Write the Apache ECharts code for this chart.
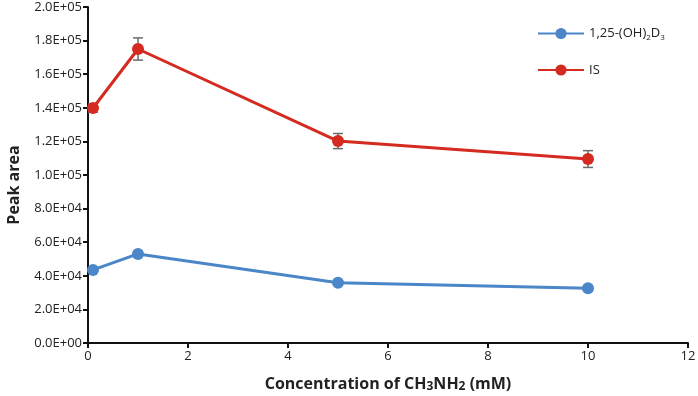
<!DOCTYPE html>
<html>
<head>
<meta charset="utf-8">
<script src="https://cdn.jsdelivr.net/npm/echarts@6/dist/echarts.min.js"></script>
<style>
html, body { margin: 0; padding: 0; background: #fff; }
#main { width: 698px; height: 396px; }
</style>
</head>
<body>
<div id="main"></div>
<script>
var myChart = echarts.init(document.getElementById('main'));

// data
var concentrations = [0.1, 1, 5, 10];
var vitD = [43500, 53000, 35900, 32600];
var vitDErr = [1000, 1500, 800, 700];
var isValues = [139900, 175000, 120200, 109500];
var isErr = [2500, 6600, 4500, 5000];

var blue = '#4a86c8';
var red = '#d42a20';

function sci(v) {
    if (v === 0) return '0.0E+00';
    var e = Math.floor(Math.log10(v));
    var m = v / Math.pow(10, e);
    return m.toFixed(1) + 'E+' + (e < 10 ? '0' + e : e);
}

function pairs(xs, ys) {
    return xs.map(function (x, i) { return [x, ys[i]]; });
}

function errData(xs, ys, es) {
    return xs.map(function (x, i) { return [x, ys[i] - es[i], ys[i] + es[i]]; });
}

function errorBars(params, api) {
    var x = api.value(0);
    var lo = api.coord([x, api.value(1)]);
    var hi = api.coord([x, api.value(2)]);
    var w = 5;
    var st = { stroke: '#6b6b6b', lineWidth: 1.5 };
    return {
        type: 'group',
        children: [
            { type: 'line', shape: { x1: lo[0], y1: lo[1], x2: hi[0], y2: hi[1] }, style: st },
            { type: 'line', shape: { x1: lo[0] - w, y1: lo[1], x2: lo[0] + w, y2: lo[1] }, style: st },
            { type: 'line', shape: { x1: hi[0] - w, y1: hi[1], x2: hi[0] + w, y2: hi[1] }, style: st }
        ]
    };
}

var option = {
    backgroundColor: '#fff',
    textStyle: { fontFamily: 'Open Sans' },
    legend: {
        orient: 'vertical',
        left: 532,
        top: 22,
        itemWidth: 46,
        itemHeight: 14,
        itemGap: 22,
        data: ['vitD', 'IS'],
        formatter: function (name) {
            return name === 'vitD' ? '1,25-(OH){s|2}D{s|3}' : 'IS';
        },
        textStyle: {
            fontSize: 13,
            color: '#222',
            rich: {
                s: { fontSize: 8, verticalAlign: 'bottom', padding: [8, 0, 0, 0], color: '#222' }
            }
        }
    },
    grid: { left: 88, right: 10, top: 7, bottom: 53, outerBoundsMode: 'none', containLabel: false },
    xAxis: {
        type: 'value',
        min: 0,
        max: 12,
        interval: 2,
        name: 'Concentration of CH{s|3}NH{s|2} (mM)',
        nameLocation: 'middle',
        nameGap: 32,
        nameTextStyle: {
            fontSize: 16,
            fontWeight: 'bold',
            color: '#222',
            rich: { s: { fontSize: 12, fontWeight: 'bold', color: '#222', padding: [6, 0, 0, 0] } }
        },
        axisLine: { lineStyle: { color: '#111', width: 2 } },
        axisTick: { show: true, inside: false, length: 5, lineStyle: { color: '#111', width: 2 } },
        axisLabel: { fontSize: 13, color: '#222', margin: 7 },
        splitLine: { show: false }
    },
    yAxis: {
        type: 'value',
        min: 0,
        max: 200000,
        interval: 20000,
        name: 'Peak area',
        nameLocation: 'middle',
        nameGap: 66,
        nameTextStyle: { fontSize: 16, fontWeight: 'bold', color: '#222', padding: [0, 20, 0, 0] },
        axisLine: { show: true, lineStyle: { color: '#111', width: 2 } },
        axisTick: { show: true, inside: false, length: 5, lineStyle: { color: '#111', width: 2 } },
        axisLabel: { fontSize: 13, color: '#222', margin: 6, formatter: sci },
        splitLine: { show: false }
    },
    series: [
        {
            name: 'vitD',
            type: 'line',
            data: pairs(concentrations, vitD),
            symbol: 'circle',
            symbolSize: 12,
            itemStyle: { color: blue },
            lineStyle: { color: blue, width: 3 },
            z: 3
        },
        {
            name: 'IS',
            type: 'line',
            data: pairs(concentrations, isValues),
            symbol: 'circle',
            symbolSize: 12,
            itemStyle: { color: red },
            lineStyle: { color: red, width: 3 },
            z: 3
        },
        {
            type: 'custom',
            renderItem: errorBars,
            data: errData(concentrations, vitD, vitDErr),
            encode: { x: 0, y: [1, 2] },
            z: 2
        },
        {
            type: 'custom',
            renderItem: errorBars,
            data: errData(concentrations, isValues, isErr),
            encode: { x: 0, y: [1, 2] },
            z: 2
        }
    ]
};

myChart.setOption(option);
</script>
</body>
</html>
